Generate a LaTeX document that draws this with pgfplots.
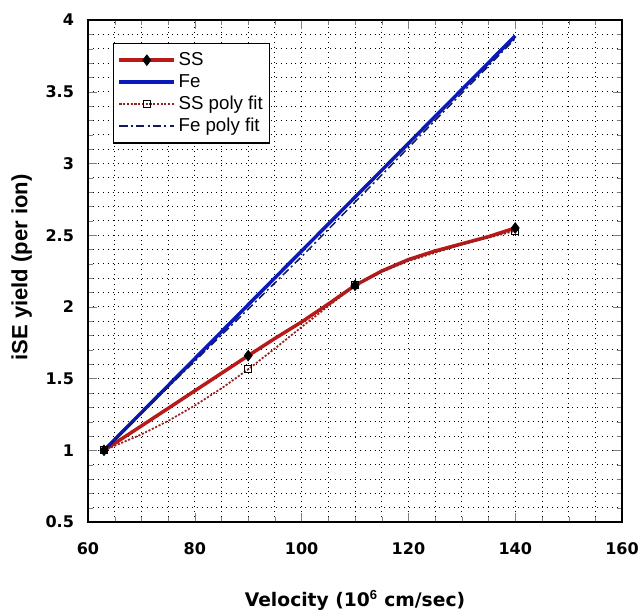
\documentclass[border=0pt]{standalone}
\usepackage{pgfplots}
\pgfplotsset{compat=1.18}
\usepackage{fontspec}
\setmainfont{Liberation Sans}
\newfontfamily\tickfont{DejaVu Sans Bold}
\begin{document}
\begin{tikzpicture}

\definecolor{ssred}{RGB}{185,25,25}
\definecolor{feblue}{RGB}{10,25,185}
\definecolor{ssfit}{RGB}{150,35,35}
\definecolor{fefit}{RGB}{20,25,90}

\begin{axis}[
scale only axis,
width=400pt, height=376pt,
xmin=60, xmax=160,
ymin=0.5, ymax=4,
xtick={60,80,...,160},
ytick={0.5,1,...,4},
xticklabel={\tickfont\fontsize{12}{14}\selectfont\pgfmathprintnumber[assume math mode=true]{\tick}},
yticklabel={\tickfont\fontsize{12}{14}\selectfont\pgfmathprintnumber[assume math mode=true]{\tick}},
minor x tick num=3,
minor y tick num=4,
tick align=inside,
tick pos=both,
major tick length=7pt,
minor tick length=4pt,
axis line style={line width=1pt},
xmajorgrids, xminorgrids, ymajorgrids, yminorgrids,
grid style={black, line width=0.65pt, dash pattern=on 0.7pt off 3pt},
minor grid style={black, line width=0.65pt, dash pattern=on 0.7pt off 3pt},
xticklabel style={yshift=-12pt},
yticklabel style={xshift=-7pt},
xlabel={\tickfont Velocity (10$^{\mathbf{6}}$ cm/sec)},
ylabel={\bfseries iSE yield (per ion)},
xlabel style={font=\fontsize{14}{16}\selectfont, at={(axis description cs:0.5,-0.157)}, anchor=center},
ylabel style={font=\fontsize{16.5}{18}\selectfont, at={(axis description cs:-0.124,0.507)}, anchor=center},
legend cell align={left},
legend style={at={(0.047,0.955)}, anchor=north west, draw=black, line width=1pt, fill=white,
  font=\fontsize{14}{16}\selectfont, inner xsep=3pt, inner ysep=5pt, row sep=1pt},
legend image code/.code={\draw[#1, mark indices={2}] plot coordinates {(0cm,0cm) (0.72cm,0cm) (1.44cm,0cm)};},
]
\addplot [ssred, line width=2.6pt, mark=diamond*, mark size=4pt,
  mark options={solid, fill=black, draw=black, line width=0.5pt},
  mark indices={1,4,8,14}]
table {%
63 1.00
70 1.17
80 1.415
90 1.66
95 1.78
100 1.895
105 2.02
110 2.15
115 2.25
120 2.33
125 2.39
130 2.44
135 2.49
140 2.55
};
\addlegendentry{SS}
\addplot [feblue, line width=2.6pt]
table {%
63 1.00
90 2.015
110 2.765
140 3.89
};
\addlegendentry{Fe}
\addplot [ssfit, line width=1.3pt, dash pattern=on 1.6pt off 1.2pt, mark=square, mark size=2.6pt,
  mark options={solid, fill=white, draw=black, line width=0.7pt},
  mark indices={1,6,10,14}]
table {%
63 1.00
70 1.111
75 1.205
80 1.312
85 1.432
90 1.565
95 1.71
100 1.86
105 2.005
110 2.15
115 2.245
120 2.32
130 2.435
140 2.53
};
\addlegendentry{SS poly fit}
\addplot [fefit, line width=1.1pt, dash pattern=on 6pt off 2.5pt on 1.5pt off 2.5pt]
table {%
63 1.00
75 1.44
90 1.985
100 2.35
110 2.73
120 3.11
130 3.49
140 3.87
};
\addlegendentry{Fe poly fit}
\end{axis}
\pgfresetboundingbox
\path ([shift={(-65.9pt,-66.7pt)}]current axis.south west) rectangle ([shift={(12.7pt,15pt)}]current axis.north east);
\end{tikzpicture}
\end{document}
